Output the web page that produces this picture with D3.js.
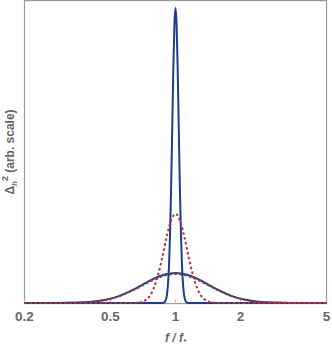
<!DOCTYPE html>
<html>
<head>
<meta charset="utf-8"/>
<title>Delta h^2 vs f/f*</title>
<script src="https://cdn.jsdelivr.net/npm/d3@7"></script>
<style>
    body { margin: 0; background: #fff; }
    .frame { fill: none; stroke: #9a9a9a; stroke-width: 1.2px; }
    .tick-label { font: bold 13.5px "Liberation Sans", Arial, sans-serif; fill: #666; }
    .axis-title { font: bold 12px "Liberation Sans", Arial, sans-serif; fill: #666; }
    .curve { fill: none; stroke-width: 2px; stroke-linejoin: round; }
</style>
</head>
<body>
<div id="chart"></div>
<script>
    // x ticks (log axis)
    var xTicks = [0.2, 0.5, 1, 2, 5];

    // narrow solid peak
    var narrowF = [0.2, 0.8710, 0.8913, 0.9016, 0.9120, 0.9226, 0.9333, 0.9441, 0.9550, 0.9661, 0.9772, 0.9886, 1,
                   1.0116, 1.0233, 1.0351, 1.0471, 1.0593, 1.0715, 1.0839, 1.0965, 1.1092, 1.1220, 1.1482, 5];
    var narrowV = [0, 0, 0.3, 1.0, 2.6, 6.1, 12.8, 24.0, 40.1, 59.8, 79.6, 94.4, 100,
                   94.4, 79.6, 59.8, 40.1, 24.0, 12.8, 6.1, 2.6, 1.0, 0.3, 0, 0];

    // medium dashed peak
    var mediumF = [0.2, 0.6310, 0.6607, 0.6918, 0.7244, 0.7586, 0.7943, 0.8318, 0.8710, 0.9120, 0.9550, 1,
                   1.0471, 1.0965, 1.1482, 1.2023, 1.2589, 1.3183, 1.3804, 1.4454, 1.5136, 1.5849, 5];
    var mediumV = [0, 0, 0.1, 0.3, 0.9, 2.3, 5.1, 9.7, 15.9, 22.7, 28.1, 30.2,
                   28.1, 22.7, 15.9, 9.7, 5.1, 2.3, 0.9, 0.3, 0.1, 0, 0];

    // wide solid and wide dashed
    var wideF = [0.2, 0.2512, 0.3162, 0.3548, 0.3981, 0.4467, 0.5012, 0.5623, 0.6310, 0.7079, 0.7943, 0.8913, 1,
                 1.122, 1.2589, 1.4125, 1.5849, 1.7783, 1.9953, 2.2387, 2.5119, 2.8184, 3.1623, 3.981, 5];
    var wideSolidV = [0, 0, 0.05, 0.13, 0.33, 0.75, 1.49, 2.68, 4.34, 6.31, 8.24, 9.67, 10.2,
                      9.67, 8.24, 6.31, 4.34, 2.68, 1.49, 0.75, 0.33, 0.13, 0.05, 0, 0];
    var wideDashV = [0, 0, 0.05, 0.12, 0.32, 0.72, 1.43, 2.57, 4.17, 6.06, 7.91, 9.28, 9.8,
                     9.28, 7.91, 6.06, 4.17, 2.57, 1.43, 0.72, 0.32, 0.12, 0.05, 0, 0];

    var blue = "#173f8c", red = "#b03238";

    var width = 332, height = 346;
    var svg = d3.select("#chart").append("svg")
        .attr("width", width)
        .attr("height", height);

    var x = d3.scaleLog().domain([0.2, 5]).range([24.5, 326.5]);
    var y = d3.scaleLinear().domain([0, 100]).range([303, 8]);

    svg.append("rect")
        .attr("class", "frame")
        .attr("x", 24.5).attr("y", 0.6)
        .attr("width", 302).attr("height", 303);

    // ticks
    svg.selectAll(".tk").data(xTicks).enter().append("line")
        .attr("x1", function(d){ return x(d); })
        .attr("x2", function(d){ return x(d); })
        .attr("y1", 303.6).attr("y2", 299.5)
        .attr("stroke", "#bbb").attr("stroke-width", 1);

    svg.selectAll(".tick-label").data(xTicks).enter().append("text")
        .attr("class", "tick-label")
        .attr("x", function(d){ return x(d); })
        .attr("y", 321)
        .attr("text-anchor", "middle")
        .text(function(d){ return d; });

    var line = d3.line()
        .x(function(d){ return x(d[0]); })
        .y(function(d){ return y(d[1]); })
        .curve(d3.curveMonotoneX);

    function zip(a, b){ return a.map(function(v, i){ return [v, b[i]]; }); }

    svg.append("path").attr("class", "curve")
        .attr("d", line(zip(wideF, wideSolidV)))
        .attr("stroke", blue);
    svg.append("path").attr("class", "curve")
        .attr("d", line(zip(narrowF, narrowV)))
        .attr("stroke", blue);
    svg.append("path").attr("class", "curve")
        .attr("d", line(zip(wideF, wideDashV)))
        .attr("stroke", red).attr("stroke-dasharray", "2.5,2.5");
    svg.append("path").attr("class", "curve")
        .attr("d", line(zip(mediumF, mediumV)))
        .attr("stroke", red).attr("stroke-dasharray", "2.5,2.5");

    // axis titles
    var xt = svg.append("text").attr("class", "axis-title")
        .attr("x", 175.5).attr("y", 342)
        .attr("text-anchor", "middle")
        .style("font-style", "italic");
    xt.append("tspan").text("f / f");
    xt.append("tspan").attr("dy", 2).style("font-size", "8px").text("*");

    var yt = svg.append("text").attr("class", "axis-title")
        .attr("transform", "translate(14,152) rotate(-90)")
        .attr("text-anchor", "middle");
    yt.append("tspan").text("Δ");
    yt.append("tspan").attr("dy", 3).style("font-size", "8px").style("font-style", "italic").text("h");
    yt.append("tspan").attr("dy", -9).style("font-size", "9px").text("2");
    yt.append("tspan").attr("dy", 6).text(" (arb. scale)");
</script>
</body>
</html>
